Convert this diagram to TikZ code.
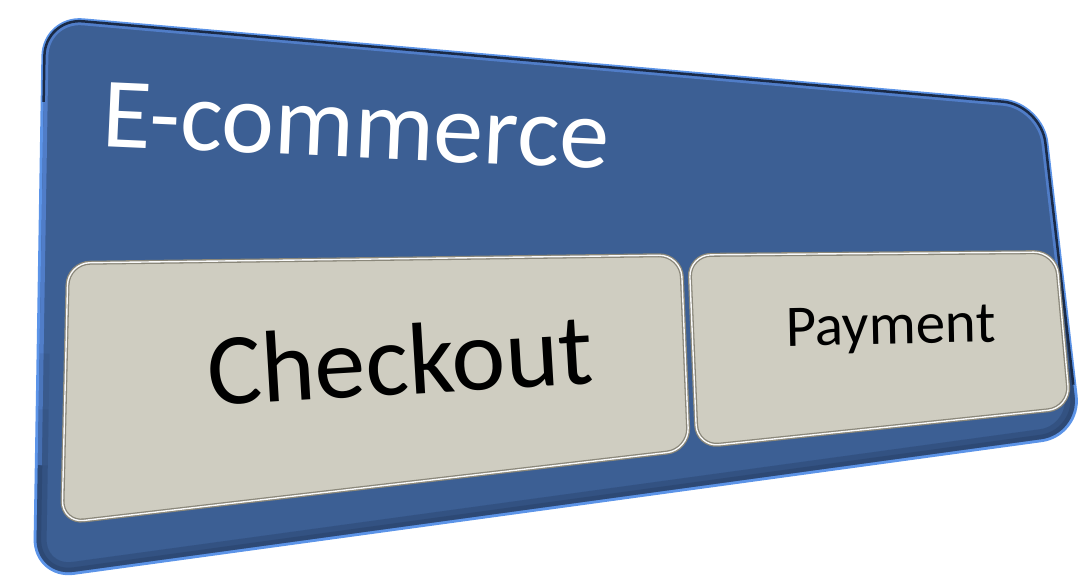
\documentclass[tikz,border=0pt]{standalone}
\usepackage{fontspec}
\setmainfont{Carlito}
\usetikzlibrary{calc}
\definecolor{panelblue}{RGB}{60,95,148}
\definecolor{glowblue}{RGB}{92,148,232}
\definecolor{edgenavy}{RGB}{26,42,70}
\definecolor{hiblue}{RGB}{80,125,200}
\definecolor{shadeblue}{RGB}{36,60,98}
\definecolor{cardgray}{RGB}{207,205,193}
\definecolor{carddark}{RGB}{138,135,122}
\tikzset{
  outerround/.style={rounded corners=38pt},
  cardround/.style={rounded corners=22pt},
  cardedge/.style={draw=carddark, line width=4pt, fill=cardgray, cardround},
  cardshine/.style={draw=white!96!gray, line width=1.4pt, cardround},
  bigtitle/.style={text=white, font=\fontsize{100}{104}\selectfont, inner sep=0pt},
  cardlabel/.style={text=black, inner sep=0pt},
}
\begin{document}
\begin{tikzpicture}[x=1pt,y=-1pt]
\useasboundingbox (0,0) rectangle (1092,581);
% outer panel corners
\coordinate (oTL) at (45,18);
\coordinate (oTR) at (1041,105);
\coordinate (oBR) at (1079,434);
\coordinate (oBL) at (36,577);
\coordinate (oL) at ($(oTL)!0.5!(oBL)$);
\coordinate (oLup) at ($(oTL)!0.15!(oBL)$);
\coordinate (oLa) at ($(oTL)!0.6!(oBL)$);
\coordinate (oLb) at ($(oTL)!0.7!(oBL)$);
\coordinate (oLlow) at ($(oTL)!0.8!(oBL)$);
\coordinate (oRup) at ($(oTR)!0.5!(oBR)$);
\coordinate (oRa) at ($(oTR)!0.6!(oBR)$);
\coordinate (oRb) at ($(oTR)!0.7!(oBR)$);
\coordinate (oRlow) at ($(oTR)!0.8!(oBR)$);
\coordinate (oRend) at ($(oTR)!0.85!(oBR)$);
\def\outerpath{(oL) -- (oTL) -- (oTR) -- (oBR) -- (oBL) -- cycle}
% glow
\draw[glowblue, line width=6pt, outerround] \outerpath;
\fill[panelblue, outerround] \outerpath;
\begin{scope}
  \clip[outerround] \outerpath;
  \draw[hiblue, line width=8pt, outerround] (oLlow) -- (oTL) -- (oTR) -- (oRup);
  \draw[shadeblue, line width=20pt, opacity=0.12, outerround] (oLa) -- (oBL) -- (oBR) -- (oRa);
  \draw[shadeblue, line width=20pt, opacity=0.12, outerround] (oLb) -- (oBL) -- (oBR) -- (oRb);
  \draw[shadeblue, line width=20pt, opacity=0.12, outerround] (oLlow) -- (oBL) -- (oBR) -- (oRlow);
  \draw[shadeblue, line width=9pt, opacity=0.4, outerround] (oLlow) -- (oBL) -- (oBR) -- (oRlow);
\end{scope}
\draw[edgenavy, line width=2.5pt, outerround] (oLup) -- (oTL) -- (oTR) -- (oRend);
% checkout card
\coordinate (cTL) at (68,263);
\coordinate (cTR) at (681,255);
\coordinate (cBR) at (689,450);
\coordinate (cBL) at (62,523);
\coordinate (cL) at ($(cTL)!0.5!(cBL)$);
\def\checkpath{(cL) -- (cTL) -- (cTR) -- (cBR) -- (cBL) -- cycle}
\draw[cardedge] \checkpath;
\draw[cardshine] \checkpath;
% payment card
\coordinate (pTL) at (689,255);
\coordinate (pTR) at (1056,252);
\coordinate (pBR) at (1070,408);
\coordinate (pBL) at (697,447);
\coordinate (pL) at ($(pTL)!0.5!(pBL)$);
\def\paypath{(pL) -- (pTL) -- (pTR) -- (pBR) -- (pBL) -- cycle}
\draw[cardedge] \paypath;
\draw[cardshine] \paypath;
% texts
\node[bigtitle, anchor=base west, rotate=-2.6] (title) at (101,146) {E-commerce};
\node[cardlabel, font=\fontsize{102}{106}\selectfont, anchor=base west, rotate=3.4] (checkout) at (209,406) {Checkout};
\node[cardlabel, font=\fontsize{59}{62}\selectfont, anchor=base west, rotate=1.1] (payment) at (786,346) {Payment};
\end{tikzpicture}
\end{document}
